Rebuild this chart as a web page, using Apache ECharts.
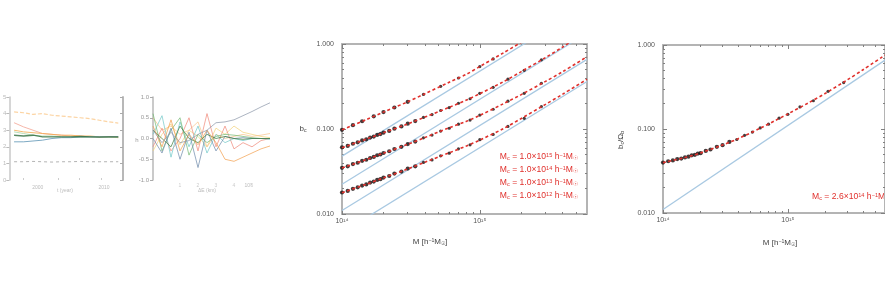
<!DOCTYPE html>
<html><head><meta charset="utf-8">
<script src="https://cdn.jsdelivr.net/npm/echarts@6/dist/echarts.min.js"></script>
<style>html,body{margin:0;padding:0;background:#fff}#c{width:885px;height:288px}</style>
</head><body><div id="c"></div>
<script>
// ---------- data ----------
// Panel A (left, faint time-series panel)
const PANEL_A_X = [0.5,1.5,2.5,3.5,4.5,5.5,6.5,7.5,8.5,9.5,10.5,11.5];
const A_LIGHT_ORANGE = [4.1,4.05,3.95,4.0,3.9,3.85,3.8,3.75,3.7,3.6,3.5,3.43];
const A_SALMON = [3.45,3.2,3.0,2.8,2.75,2.7,2.65,2.65,2.6,2.6,2.6,2.6];
const A_ORANGE = [3.0,2.9,2.85,2.8,2.75,2.7,2.7,2.65,2.65,2.6,2.6,2.55];
const A_LIGHT_GREEN = [2.9,2.8,2.7,2.65,2.65,2.6,2.6,2.6,2.6,2.6,2.58,2.58];
const A_DARK_GREEN = [2.7,2.65,2.7,2.6,2.6,2.6,2.6,2.62,2.6,2.58,2.6,2.6];
const A_TEAL = [2.3,2.3,2.35,2.4,2.5,2.55,2.55,2.6,2.6,2.6,2.6,2.6];
const A_GREY = [1.1,1.1,1.12,1.1,1.08,1.1,1.1,1.12,1.1,1.1,1.1,1.1];
const PANEL_A_TICK_LABELS = ['2000','2010'];

// Panel B (spaghetti panel)
const PANEL_B_X = [0,1,2,3,4,5,6,7,8,9,10,11,12,13];
const B_SLATE = [0.2,-0.1,0.15,-0.1,-0.05,0.1,0.2,0.38,0.40,0.45,0.55,0.65,0.76,0.86];
const B_ORANGE = [0.3,-0.2,0.45,-0.3,0.1,-0.15,0.2,-0.1,-0.5,-0.55,-0.45,-0.35,-0.25,-0.18];
const B_LIGHT_ORANGE = [0.5,0.2,0.3,0.1,0.2,0.4,-0.2,0.1,0.0,0.05,0.1,0.05,0.08,0.12];
const B_GREEN = [0.6,-0.3,0.2,0.5,-0.4,0.1,-0.1,0.05,0.1,0.08,0.05,0.02,0.0,0.0];
const B_TEAL = [0.1,0.55,-0.45,0.4,-0.2,0.3,-0.35,0.1,-0.1,0.0,-0.05,0.0,0.0,-0.02];
const B_SALMON = [-0.2,0.25,-0.3,0.0,0.5,-0.3,0.6,-0.2,0.3,-0.25,-0.1,-0.2,-0.05,0.0];
const B_STEEL = [0.0,-0.35,0.25,-0.5,0.15,-0.7,0.2,-0.3,0.05,0.0,0.02,0.0,0.0,0.0];
const B_DARK_GREEN = [0.2,0.0,-0.2,0.3,0.0,-0.1,0.1,0.0,0.05,0.0,-0.02,0.0,0.0,0.0];
const B_YELLOW = [-0.3,0.1,0.35,-0.15,0.2,0.05,-0.2,0.25,0.1,0.3,0.15,0.1,0.05,0.02];

// Middle panel: b(M) for four Mc values
const M_GRID = [1e14,1.5e14,2e14,3e14,4e14,6e14,8e14,1e15,1.5e15,2e15,3e15,4e15,6e15];
const FIT_1 = [0.0977,0.129,0.158,0.209,0.260,0.355,0.440,0.543,0.794,1.047];
const FIT_2 = [0.0603,0.0759,0.0902,0.1148,0.138,0.180,0.219,0.260,0.363,0.473,0.692,0.923,1.40];
const FIT_3 = [0.0347,0.0437,0.0519,0.0661,0.0794,0.1035,0.123,0.1445,0.200,0.254,0.363,0.473,0.708];
const FIT_4 = [0.0178,0.0224,0.0266,0.0339,0.0407,0.0525,0.0631,0.0741,0.102,0.133,0.195,0.257,0.385];
const M_ENDS = [1e14,6e15];
const ASYM_1 = [0.0479,2.87];
const ASYM_2 = [0.0224,1.34];
const ASYM_3 = [0.011,0.66];
const ASYM_4 = [0.00603,0.362];
const M_SAMPLE = [1.0,1.1,1.2,1.3,1.4,1.5,1.6,1.7,1.8,1.9,2.0,2.2,2.4,2.7,3.0,3.4,3.9,4.5,5.2,6.0,7.0,8.5,10,12.5,16,21,28]; // x 1e14
const M_SAMPLE_1 = [1.0,1.2,1.4,1.7,2.0,2.4,3.0,3.9,5.2,7.0,10,12.5];
const SIM_1 = [0.0977,0.111,0.1233,0.141,0.158,0.179,0.209,0.255,0.318,0.398,0.543,0.668];
const SIM_2 = [0.0608,0.0632,0.0671,0.0697,0.0734,0.0755,0.0793,0.0814,0.0851,0.0871,0.0906,0.0950,0.1010,0.1072,0.1155,0.1238,0.1367,0.1478,0.1650,0.1785,0.2010,0.227,0.263,0.309,0.386,0.490,0.652];
const SIM_3 = [0.0349,0.0364,0.0387,0.0401,0.0422,0.0435,0.0456,0.0469,0.0491,0.0501,0.0522,0.0547,0.0582,0.0617,0.0665,0.0711,0.0788,0.0848,0.0945,0.1020,0.1140,0.1272,0.1458,0.1708,0.2125,0.2628,0.3455];
const SIM_4 = [0.0179,0.0187,0.0198,0.0206,0.0216,0.0223,0.0234,0.0241,0.0252,0.0257,0.0268,0.0280,0.0299,0.0316,0.0342,0.0364,0.0404,0.0433,0.0484,0.0520,0.0585,0.0652,0.0748,0.0864,0.1071,0.1337,0.1838];
const MC_LABELS = ['1.0×10','1.0×10','1.0×10','1.0×10'];
const MC_EXPONENTS = ['15','14','13','12'];

// Right panel
const FIT_R = [0.0398,0.0457,0.0519,0.0646,0.0767,0.102,0.127,0.151,0.209,0.266,0.385,0.507,0.759];
const ASYM_R = [0.011,0.66];
const SIM_R = [0.0398,0.0413,0.0422,0.0438,0.0445,0.0459,0.0468,0.0486,0.0492,0.0510,0.0516,0.0549,0.0570,0.0614,0.0642,0.0702,0.0750,0.0840,0.0918,0.1030,0.1140,0.1345,0.1495,0.1830,0.2170,0.2810,0.3570];
const MC_RIGHT = ['2.6×10','14'];

const X_TICK_EXP = [14,15];
const Y_TICK_EXP = [-2,-1,0];

// ---------- helpers ----------
const RED = '#e0302c', BLUE = '#a9c9e2', FRAME = '#b4b4b4', TICK = '#808080';
const lx0 = Math.log10(1e14), lx1 = Math.log10(6e15);
const minorX = [], minorY = [];
for (let e = 14; e <= 15; e++) for (let k = 2; k <= 9; k++) { const v = Math.log10(k) + e; if (v < lx1) minorX.push(v); }
for (let e = -2; e <= -1; e++) for (let k = 2; k <= 9; k++) minorY.push(Math.log10(k) + e);
const sup = s => s.split('').map(c => ({'0':'⁰','1':'¹','2':'²','3':'³','4':'⁴','5':'⁵','6':'⁶','7':'⁷','8':'⁸','9':'⁹','-':'⁻'})[c]).join('');
const pairs = (xs, ys, f) => ys.map((y, i) => [f ? xs[i] * f : xs[i], y]);

const xAxes = [], yAxes = [];
function addX(o) { xAxes.push(Object.assign({splitLine:{show:false}, axisLine:{show:false,onZero:false}, axisTick:{show:false}, axisLabel:{show:false}}, o)); return xAxes.length - 1; }
function addY(o) { yAxes.push(Object.assign({splitLine:{show:false}, axisLine:{show:false,onZero:false}, axisTick:{show:false}, axisLabel:{show:false}}, o)); return yAxes.length - 1; }

function logDecor(g) {
  const lab = {fontSize:7, color:'#555', fontFamily:'Liberation Sans'};
  ['bottom','top'].forEach(pos => {
    addX({type:'value', gridIndex:g, position:pos, min:lx0, max:lx1,
      axisLine:{show:true,onZero:false,lineStyle:{color:FRAME,width:2}},
      axisTick:{show:true,inside:true,length:4,customValues:X_TICK_EXP,lineStyle:{color:TICK,width:1}},
      axisLabel: pos === 'bottom' ? {show:true,customValues:X_TICK_EXP,margin:4,formatter:v=>'10'+sup(String(Math.round(v))),...lab} : {show:false}});
    addX({type:'value', gridIndex:g, position:pos, min:lx0, max:lx1,
      axisTick:{show:true,inside:true,length:2,customValues:minorX,lineStyle:{color:TICK,width:1}}});
  });
  ['left','right'].forEach(pos => {
    addY({type:'value', gridIndex:g, position:pos, min:-2, max:0,
      axisLine:{show:true,onZero:false,lineStyle:{color:FRAME,width:2}},
      axisTick:{show:true,inside:true,length:4,customValues:Y_TICK_EXP,lineStyle:{color:TICK,width:1}},
      axisLabel: pos === 'left' ? {show:true,customValues:Y_TICK_EXP,margin:8,formatter:v=>Math.pow(10,v).toFixed(3),...lab} : {show:false}});
    addY({type:'value', gridIndex:g, position:pos, min:-2, max:0,
      axisTick:{show:true,inside:true,length:2,customValues:minorY,lineStyle:{color:TICK,width:1}}});
  });
}

// grids
const grids = [
  {left:3, top:97, width:120, height:83},
  {left:153, top:97, width:117, height:83},
  {left:342, top:44, width:245, height:170},
  {left:663, top:45, width:245, height:168}
];

// Panel A axes
const axA = addX({type:'value', gridIndex:0, min:0, max:12, position:'bottom',
  axisTick:{show:true,inside:true,length:2,customValues:[1.5,5.2,7.4,9.7],lineStyle:{color:'#ccc'}},
  axisLabel:{show:true,customValues:[3,10],margin:5,fontSize:5,color:'#bbb',formatter:v=>v<6?PANEL_A_TICK_LABELS[0]:PANEL_A_TICK_LABELS[1]}});
const ayA = addY({type:'value', gridIndex:0, min:0, max:5, interval:1, position:'left',
  axisLine:{show:true,onZero:false,lineStyle:{color:'#c8c8c8',width:1.5}},
  axisTick:{show:true,length:3,lineStyle:{color:'#bbb'}},
  axisLabel:{show:true,fontSize:6,color:'#bbb',margin:3}});
addY({type:'value', gridIndex:0, min:0, max:5, interval:1, position:'right',
  axisLine:{show:true,onZero:false,lineStyle:{color:'#b8b8b8',width:2}},
  axisTick:{show:true,inside:true,length:3,lineStyle:{color:'#aaa'}}});
// Panel B axes
const axB = addX({type:'value', gridIndex:1, min:0, max:13, position:'bottom',
  axisTick:{show:false},
  axisLabel:{show:true,customValues:[3,5,7,9,11],margin:3,fontSize:5,color:'#ccc',formatter:v=>String((v-1)/2)}});
const ayB = addY({type:'value', gridIndex:1, min:-1, max:1, interval:0.5, position:'left',
  axisLine:{show:true,onZero:false,lineStyle:{color:'#b8b8b8',width:1.5}},
  axisTick:{show:true,inside:false,length:3,lineStyle:{color:'#aaa'}},
  axisLabel:{show:true,fontSize:6,color:'#999',margin:4,formatter:v=>v.toFixed(1)}});
// Middle & right data axes (log)
const axM = addX({type:'log', gridIndex:2, min:1e14, max:6e15, show:false});
const ayM = addY({type:'log', gridIndex:2, min:0.01, max:1, show:false});
const axR = addX({type:'log', gridIndex:3, min:1e14, max:6e15, show:false});
const ayR = addY({type:'log', gridIndex:3, min:0.01, max:1, show:false});
logDecor(2); logDecor(3);

// series
const series = [];
function thin(idxX, idxY, xs, ys, color, width, dash) {
  series.push({type:'line', xAxisIndex:idxX, yAxisIndex:idxY, data:pairs(xs, ys), showSymbol:false, symbol:'none',
    lineStyle:{color, width:width||0.9, type:dash||'solid', opacity:0.8}, silent:true});
}
thin(axA, ayA, PANEL_A_X, A_GREY, '#a0a0a0', 1, [3,3]);
thin(axA, ayA, PANEL_A_X, A_LIGHT_ORANGE, '#fbc98c', 1.2, [4,2]);
thin(axA, ayA, PANEL_A_X, A_SALMON, '#f4a494', 1);
thin(axA, ayA, PANEL_A_X, A_ORANGE, '#f3a74a', 1);
thin(axA, ayA, PANEL_A_X, A_LIGHT_GREEN, '#a8d6a8', 1);
thin(axA, ayA, PANEL_A_X, A_TEAL, '#5d93b4', 1);
thin(axA, ayA, PANEL_A_X, A_DARK_GREEN, '#2f6c3c', 1.4);

thin(axB, ayB, PANEL_B_X, B_YELLOW, '#f2d37a');
thin(axB, ayB, PANEL_B_X, B_LIGHT_ORANGE, '#f8c58c');
thin(axB, ayB, PANEL_B_X, B_SALMON, '#f08a7a');
thin(axB, ayB, PANEL_B_X, B_TEAL, '#72c8c8');
thin(axB, ayB, PANEL_B_X, B_GREEN, '#74ba74');
thin(axB, ayB, PANEL_B_X, B_STEEL, '#6f8cab');
thin(axB, ayB, PANEL_B_X, B_DARK_GREEN, '#3f7d3f');
thin(axB, ayB, PANEL_B_X, B_ORANGE, '#f2a050');
thin(axB, ayB, PANEL_B_X, B_SLATE, '#8b96a8');

function logPanel(ax, ay, asym, sim, simX, fit, fitLen) {
  series.push({type:'line', xAxisIndex:ax, yAxisIndex:ay, data:pairs(M_ENDS, asym), symbol:'none',
    lineStyle:{color:BLUE, width:1.3}, silent:true, z:2});
  series.push({type:'scatter', xAxisIndex:ax, yAxisIndex:ay, data:pairs(simX, sim, 1e14), symbol:'circle',
    symbolSize:v => v[0] < 3.5e14 ? 4.2 : 3.2,
    itemStyle:{color:'#140a0a'}, silent:true, z:3});
  series.push({type:'line', xAxisIndex:ax, yAxisIndex:ay, data:pairs(M_GRID.slice(0, fitLen), fit), symbol:'none', smooth:0.3,
    lineStyle:{color:RED, width:1.6, type:[3,2.5]}, silent:true, z:4});
}
logPanel(axM, ayM, ASYM_1, SIM_1, M_SAMPLE_1, FIT_1, FIT_1.length);
logPanel(axM, ayM, ASYM_2, SIM_2, M_SAMPLE, FIT_2, FIT_2.length);
logPanel(axM, ayM, ASYM_3, SIM_3, M_SAMPLE, FIT_3, FIT_3.length);
logPanel(axM, ayM, ASYM_4, SIM_4, M_SAMPLE, FIT_4, FIT_4.length);
logPanel(axR, ayR, ASYM_R, SIM_R, M_SAMPLE, FIT_R, FIT_R.length);

// texts
const rich = (col, fs) => ({n:{fontSize:fs, fill:col, fontFamily:'Liberation Sans'}, s:{fontSize:fs*0.65, fill:col, verticalAlign:'bottom', fontFamily:'Liberation Sans'}, p:{fontSize:fs*0.65, fill:col, verticalAlign:'top', fontFamily:'Liberation Sans'}});
const graphic = [];
const rowsY = [157,170,183,196];
MC_LABELS.forEach((t, i) => graphic.push({type:'text', x:578, y:rowsY[i], silent:true,
  style:{text:'{n|M}{s|c}{n| = '+t+'}{p|'+MC_EXPONENTS[i]+'}{n| h}{p|−1}{n|M}{s|☉}', rich:rich(RED,8.6), align:'right', verticalAlign:'middle'}}));
graphic.push({type:'text', x:812, y:197, silent:true,
  style:{text:'{n|M}{s|c}{n| = '+MC_RIGHT[0]+'}{p|'+MC_RIGHT[1]+'}{n| h}{p|−1}{n|M}{s|☉}', rich:rich(RED,8.6), align:'left', verticalAlign:'middle'}});
const ax = (x, y, text, rot) => graphic.push({type:'text', x, y, rotation:rot||0, silent:true,
  style:{text, rich:rich('#444',8), align:'center', verticalAlign:'middle'}});
ax(430, 242, '{n|M [h}{p|−1}{n|M}{s|☉}{n|]}');
ax(780, 243, '{n|M [h}{p|−1}{n|M}{s|☉}{n|]}');
ax(303, 129, '{n|b}{s|c}');
ax(621, 140, '{n|b}{s|c}{n|/Ω}{s|b}', Math.PI/2);
graphic.push({type:'text', x:65, y:191, silent:true, style:{text:'t (year)', fontSize:5, fill:'#bbb', align:'center', verticalAlign:'middle'}});
graphic.push({type:'text', x:207, y:191, silent:true, style:{text:'ΔE (km)', fontSize:5, fill:'#bbb', align:'center', verticalAlign:'middle'}});
graphic.push({type:'text', x:248, y:186, silent:true, style:{text:'10³', fontSize:5, fill:'#bbb', align:'center', verticalAlign:'middle'}});
graphic.push({type:'text', x:137, y:140, silent:true, style:{text:'h', fontSize:6, fill:'#999', align:'center', verticalAlign:'middle'}});

const chart = echarts.init(document.getElementById('c'), null, {renderer:'canvas'});
chart.setOption({animation:false, backgroundColor:'#fff', grid:grids, xAxis:xAxes, yAxis:yAxes, series, graphic});
</script></body></html>
